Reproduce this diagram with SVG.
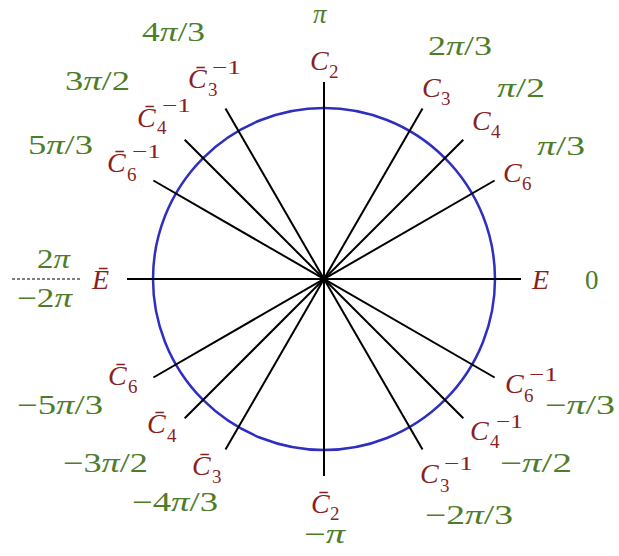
<svg xmlns="http://www.w3.org/2000/svg" width="619" height="556" viewBox="0 0 619 556">
<style>
.g{fill:#4e7d2a;font-family:"Liberation Serif",serif;font-size:27px}
.r{fill:#8a1f1f;font-family:"Liberation Serif",serif;font-size:28px;font-style:italic}
.s{font-size:19px;font-style:normal}
.pi{font-style:italic}
.sp{stroke:#000;stroke-width:2;fill:none}
</style>
<rect width="619" height="556" fill="#fff"/>
<g id="circle"><circle cx="324" cy="279" r="171" fill="none" stroke="#2e2ec0" stroke-width="2.5"/></g>
<g id="connectors" class="sp">
<line x1="127" y1="279" x2="521" y2="279"/>
<line x1="494.6" y1="180.5" x2="153.4" y2="377.5"/>
<line x1="463.3" y1="139.7" x2="184.7" y2="418.3"/>
<line x1="422.5" y1="108.4" x2="225.5" y2="449.6"/>
<line x1="324" y1="82" x2="324" y2="476"/>
<line x1="225.5" y1="108.4" x2="422.5" y2="449.6"/>
<line x1="184.7" y1="139.7" x2="463.3" y2="418.3"/>
<line x1="153.4" y1="180.5" x2="494.6" y2="377.5"/>
<line x1="12" y1="279" x2="80" y2="279" stroke-width="1" stroke-dasharray="3,2"/>
</g>
<g id="E"><text class="r" x="532" y="289">E</text><text class="g" x="585" y="289">0</text></g>
<g id="C6"><text class="r" x="503" y="182">C<tspan class="s" x="522" y="190">6</tspan></text><text class="g" x="537" y="155" textLength="48" lengthAdjust="spacingAndGlyphs"><tspan class="pi">π</tspan>/3</text></g>
<g id="C4"><text class="r" x="472" y="130">C<tspan class="s" x="491" y="138">4</tspan></text><text class="g" x="497" y="97" textLength="48" lengthAdjust="spacingAndGlyphs"><tspan class="pi">π</tspan>/2</text></g>
<g id="C3"><text class="r" x="422" y="97">C<tspan class="s" x="441" y="105">3</tspan></text><text class="g" x="428" y="55" textLength="64" lengthAdjust="spacingAndGlyphs">2<tspan class="pi">π</tspan>/3</text></g>
<g id="C2"><text class="r" x="310" y="70">C<tspan class="s" x="329" y="78">2</tspan></text><text class="g" x="313" y="23"><tspan class="pi">π</tspan></text></g>
<g id="Cb3inv"><text class="r" x="188" y="88">C̄<tspan class="s" x="208" y="96">3</tspan><tspan class="s" x="212" y="74" textLength="29" lengthAdjust="spacingAndGlyphs">−1</tspan></text><text class="g" x="142" y="41" textLength="63" lengthAdjust="spacingAndGlyphs">4<tspan class="pi">π</tspan>/3</text></g>
<g id="Cb4inv"><text class="r" x="137" y="127">C̄<tspan class="s" x="157" y="134">4</tspan><tspan class="s" x="162" y="112" textLength="29" lengthAdjust="spacingAndGlyphs">−1</tspan></text><text class="g" x="65" y="90" textLength="65" lengthAdjust="spacingAndGlyphs">3<tspan class="pi">π</tspan>/2</text></g>
<g id="Cb6inv"><text class="r" x="107" y="172">C̄<tspan class="s" x="127" y="181">6</tspan><tspan class="s" x="132" y="158" textLength="29" lengthAdjust="spacingAndGlyphs">−1</tspan></text><text class="g" x="28" y="154" textLength="65" lengthAdjust="spacingAndGlyphs">5<tspan class="pi">π</tspan>/3</text></g>
<g id="Eb"><text class="r" x="92" y="289">Ē</text><text class="g" x="37" y="268" textLength="33" lengthAdjust="spacingAndGlyphs">2<tspan class="pi">π</tspan></text><text class="g" x="17" y="307" textLength="55" lengthAdjust="spacingAndGlyphs">−2<tspan class="pi">π</tspan></text></g>
<g id="Cb6"><text class="r" x="108" y="385">C̄<tspan class="s" x="128" y="393">6</tspan></text><text class="g" x="17" y="414" textLength="86" lengthAdjust="spacingAndGlyphs">−5<tspan class="pi">π</tspan>/3</text></g>
<g id="Cb4"><text class="r" x="147" y="433">C̄<tspan class="s" x="167" y="442">4</tspan></text><text class="g" x="63" y="472" textLength="85" lengthAdjust="spacingAndGlyphs">−3<tspan class="pi">π</tspan>/2</text></g>
<g id="Cb3"><text class="r" x="192" y="475">C̄<tspan class="s" x="212" y="483">3</tspan></text><text class="g" x="132" y="511" textLength="86" lengthAdjust="spacingAndGlyphs">−4<tspan class="pi">π</tspan>/3</text></g>
<g id="Cb2"><text class="r" x="311" y="513">C̄<tspan class="s" x="330" y="520">2</tspan></text><text class="g" x="304" y="543" textLength="41" lengthAdjust="spacingAndGlyphs">−<tspan class="pi">π</tspan></text></g>
<g id="C3inv"><text class="r" x="420" y="483">C<tspan class="s" x="440" y="492">3</tspan><tspan class="s" x="444" y="470" textLength="29" lengthAdjust="spacingAndGlyphs">−1</tspan></text><text class="g" x="425" y="524" textLength="88" lengthAdjust="spacingAndGlyphs">−2<tspan class="pi">π</tspan>/3</text></g>
<g id="C4inv"><text class="r" x="470" y="440">C<tspan class="s" x="490" y="448">4</tspan><tspan class="s" x="496" y="428" textLength="27" lengthAdjust="spacingAndGlyphs">−1</tspan></text><text class="g" x="500" y="472" textLength="72" lengthAdjust="spacingAndGlyphs">−<tspan class="pi">π</tspan>/2</text></g>
<g id="C6inv"><text class="r" x="505" y="393">C<tspan class="s" x="524" y="402">6</tspan><tspan class="s" x="529" y="381" textLength="29" lengthAdjust="spacingAndGlyphs">−1</tspan></text><text class="g" x="545" y="414" textLength="70" lengthAdjust="spacingAndGlyphs">−<tspan class="pi">π</tspan>/3</text></g>
</svg>
